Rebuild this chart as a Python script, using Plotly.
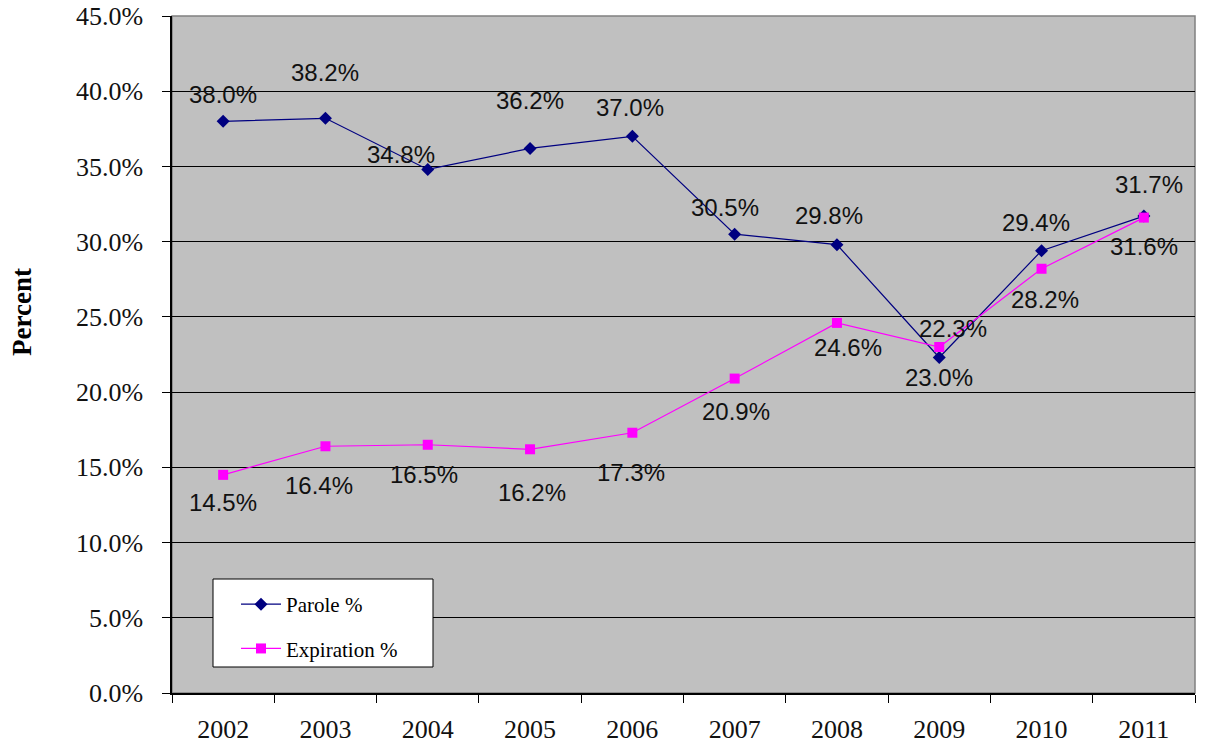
import plotly.graph_objects as go

years = ["2002", "2003", "2004", "2005", "2006", "2007", "2008", "2009", "2010", "2011"]
parole = [38.0, 38.2, 34.8, 36.2, 37.0, 30.5, 29.8, 22.3, 29.4, 31.7]
expiration = [14.5, 16.4, 16.5, 16.2, 17.3, 20.9, 24.6, 23.0, 28.2, 31.6]

# pixel nudges for the value labels (dx, dy) relative to each marker
parole_offsets = [(0, 27), (0, 46), (-27, 15), (0, 48), (-2, 29),
                  (-10, 27), (-8, 29), (14, 29), (-6, 28), (5, 32)]
expiration_offsets = [(0, -28), (-6, -39), (-4, -30), (2, -43), (-1, -40),
                      (1, -33), (11, -25), (0, -31), (3, -31), (0, -29)]

W, H = 1231, 746
L, R, T, B = 172, 36, 16, 53
pw, ph = W - L - R, H - T - B


def px_x(p):
    return (p - L) / pw


def px_y(p):
    return (H - B - p) / ph


fig = go.Figure()
fig.add_trace(go.Scatter(
    x=years, y=parole, name="Parole %", mode="lines+markers",
    line=dict(color="#000080", width=1.2),
    marker=dict(symbol="diamond", size=10, color="#000080"),
    legendgroup="a"))
fig.add_trace(go.Scatter(
    x=years, y=expiration, name="Expiration %", mode="lines+markers",
    line=dict(color="#FF00FF", width=1.2),
    marker=dict(symbol="square", size=10, color="#FF00FF"),
    legendgroup="b"))

annotations = []
for vals, offs in ((parole, parole_offsets), (expiration, expiration_offsets)):
    for i, (v, (dx, dy)) in enumerate(zip(vals, offs)):
        annotations.append(dict(
            x=i, y=v, xref="x", yref="y", text=f"{v:.1f}%", showarrow=False,
            xshift=dx, yshift=dy,
            font=dict(family="Liberation Sans, Arial", size=24, color="#111")))

annotations.append(dict(
    x=px_x(22), y=px_y(312), xref="paper", yref="paper", text="<b>Percent</b>",
    showarrow=False, textangle=-90, xanchor="center", yanchor="middle",
    font=dict(family="Liberation Serif, Times New Roman", size=27, color="#000")))

shapes = [
    # plot-area frame
    dict(type="rect", xref="paper", yref="paper", x0=0, x1=1, y0=0, y1=1,
         line=dict(color="#808080", width=1.5), layer="below"),
    # legend box
    dict(type="rect", xref="paper", yref="paper",
         x0=px_x(213), x1=px_x(433), y0=px_y(667), y1=px_y(579),
         line=dict(color="#000", width=1), fillcolor="#FFFFFF", layer="above"),
]

fig.update_layout(
    width=W, height=H,
    margin=dict(l=L, r=R, t=T, b=B, autoexpand=False),
    paper_bgcolor="#FFFFFF",
    plot_bgcolor="#C0C0C0",
    showlegend=True,
    legend=dict(
        x=px_x(236), y=px_y(584), xanchor="left", yanchor="top",
        bgcolor="rgba(0,0,0,0)", borderwidth=0,
        tracegroupgap=14,
        font=dict(family="Liberation Serif, Times New Roman", size=21, color="#000"),
        itemwidth=40),
    annotations=annotations,
    shapes=shapes,
    xaxis=dict(
        type="category", range=[-0.5, 9.5], automargin=False,
        showgrid=False, showline=True, linecolor="#000", linewidth=1.5,
        ticks="outside", tickson="boundaries", ticklen=8, tickcolor="#000",
        ticklabelstandoff=12,
        tickfont=dict(family="Liberation Serif, Times New Roman", size=26, color="#111"),
        zeroline=False),
    yaxis=dict(
        range=[0, 45], dtick=5, tickformat=".1f", ticksuffix="%", automargin=False,
        showgrid=True, gridcolor="#000", gridwidth=1,
        showline=True, linecolor="#000", linewidth=1.5,
        ticks="outside", ticklen=8, tickcolor="#000",
        ticklabelstandoff=14,
        tickfont=dict(family="Liberation Serif, Times New Roman", size=26, color="#111"),
        zeroline=False),
)

fig.write_html("out.html")
